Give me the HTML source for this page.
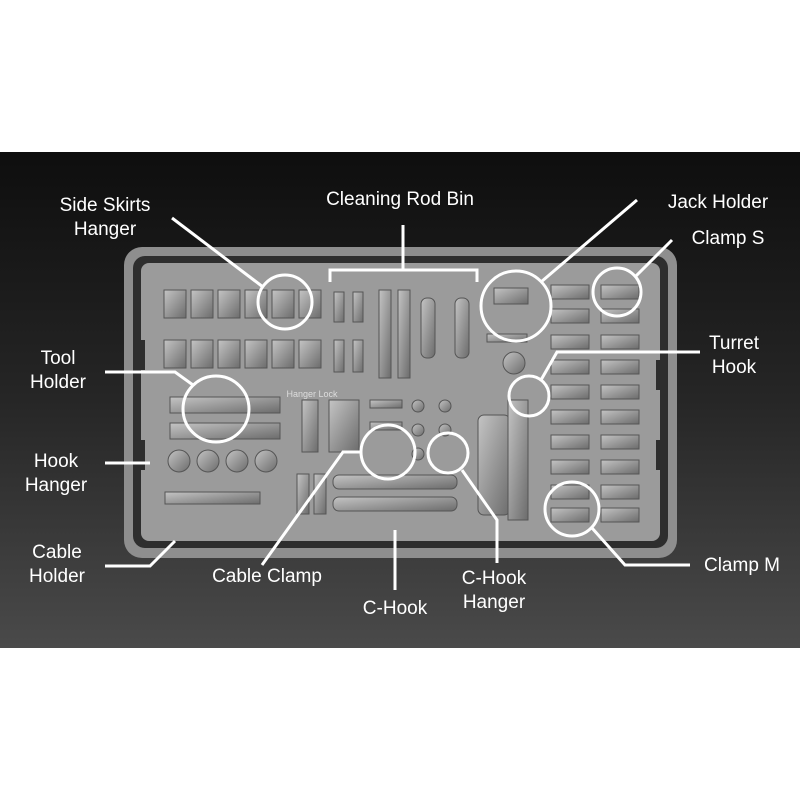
<!DOCTYPE html>
<html><head><meta charset="utf-8"><style>
html,body{margin:0;padding:0;background:#fff;width:800px;height:800px;overflow:hidden}
svg{display:block}
text{font-family:"Liberation Sans",sans-serif;font-size:19px;fill:#fff;text-anchor:middle}
</style></head><body>
<svg width="800" height="800" viewBox="0 0 800 800">
<defs>
<linearGradient id="bg" x1="0" y1="0" x2="0" y2="1">
<stop offset="0" stop-color="#0e0e0e"/><stop offset="0.5" stop-color="#262626"/><stop offset="1" stop-color="#4a4a4a"/>
</linearGradient>
<linearGradient id="part" x1="0" y1="0" x2="1" y2="1">
<stop offset="0" stop-color="#c4c4c4"/><stop offset="1" stop-color="#6c6c6c"/>
</linearGradient>
</defs>
<rect x="0" y="152" width="800" height="496" fill="url(#bg)"/>
<!-- tray -->
<rect x="124" y="247" width="553" height="311" rx="18" fill="#8e8e8e"/>
<rect x="133" y="256" width="535" height="292" rx="12" fill="#2e2e2e"/>
<rect x="141" y="263" width="519" height="278" rx="8" fill="#9b9b9b"/>
<g fill="#2e2e2e">
<rect x="133" y="440" width="12" height="30"/><rect x="656" y="440" width="12" height="30"/>
<rect x="133" y="340" width="12" height="30"/><rect x="656" y="360" width="12" height="30"/>
</g>
<g fill="url(#part)" stroke="#555" stroke-width="1">
<!-- side skirt hangers -->
<rect x="164" y="290" width="22" height="28"/><rect x="191" y="290" width="22" height="28"/><rect x="218" y="290" width="22" height="28"/><rect x="245" y="290" width="22" height="28"/><rect x="272" y="290" width="22" height="28"/><rect x="299" y="290" width="22" height="28"/>
<rect x="164" y="340" width="22" height="28"/><rect x="191" y="340" width="22" height="28"/><rect x="218" y="340" width="22" height="28"/><rect x="245" y="340" width="22" height="28"/><rect x="272" y="340" width="22" height="28"/><rect x="299" y="340" width="22" height="28"/>
<!-- small hooks -->
<rect x="334" y="292" width="10" height="30"/><rect x="353" y="292" width="10" height="30"/><rect x="334" y="340" width="10" height="32"/><rect x="353" y="340" width="10" height="32"/>
<!-- rods -->
<rect x="379" y="290" width="12" height="88"/><rect x="398" y="290" width="12" height="88"/>
<rect x="421" y="298" width="14" height="60" rx="6"/><rect x="455" y="298" width="14" height="60" rx="6"/>
<!-- jack -->
<rect x="494" y="288" width="34" height="16"/><rect x="487" y="334" width="40" height="8"/>
<circle cx="514" cy="363" r="11"/>
<!-- tool holder -->
<rect x="170" y="397" width="110" height="16"/><rect x="170" y="423" width="110" height="16"/>
<circle cx="179" cy="461" r="11"/><circle cx="208" cy="461" r="11"/><circle cx="237" cy="461" r="11"/><circle cx="266" cy="461" r="11"/>
<rect x="165" y="492" width="95" height="12"/>
<!-- center small -->
<rect x="302" y="400" width="16" height="52"/><rect x="329" y="400" width="30" height="52"/>
<rect x="370" y="400" width="32" height="8"/><rect x="370" y="422" width="32" height="8"/>
<circle cx="418" cy="406" r="6"/><circle cx="445" cy="406" r="6"/><circle cx="418" cy="430" r="6"/><circle cx="445" cy="430" r="6"/><circle cx="418" cy="454" r="6"/>
<rect x="297" y="474" width="12" height="40"/><rect x="314" y="474" width="12" height="40"/>
<rect x="333" y="475" width="124" height="14" rx="6"/><rect x="333" y="497" width="124" height="14" rx="6"/>
<!-- cylinder & spring -->
<rect x="478" y="415" width="32" height="100" rx="6"/><rect x="508" y="400" width="20" height="120"/>
<!-- clamps -->
<rect x="551" y="285" width="38" height="14"/><rect x="601" y="285" width="38" height="14"/>
<rect x="551" y="309" width="38" height="14"/><rect x="601" y="309" width="38" height="14"/>
<rect x="551" y="335" width="38" height="14"/><rect x="601" y="335" width="38" height="14"/>
<rect x="551" y="360" width="38" height="14"/><rect x="601" y="360" width="38" height="14"/>
<rect x="551" y="385" width="38" height="14"/><rect x="601" y="385" width="38" height="14"/>
<rect x="551" y="410" width="38" height="14"/><rect x="601" y="410" width="38" height="14"/>
<rect x="551" y="435" width="38" height="14"/><rect x="601" y="435" width="38" height="14"/>
<rect x="551" y="460" width="38" height="14"/><rect x="601" y="460" width="38" height="14"/>
<rect x="551" y="485" width="38" height="14"/><rect x="601" y="485" width="38" height="14"/>
<rect x="551" y="508" width="38" height="14"/><rect x="601" y="508" width="38" height="14"/>
</g>
<text x="312" y="397" style="font-size:9px;fill:#ddd">Hanger Lock</text>
<!-- callouts -->
<g fill="none" stroke="#fff" stroke-width="3">
<circle cx="285" cy="302" r="27"/><circle cx="516" cy="306" r="35"/><circle cx="617" cy="292" r="24"/>
<circle cx="216" cy="409" r="33"/><circle cx="529" cy="396" r="20"/><circle cx="388" cy="452" r="27"/>
<circle cx="448" cy="453" r="20"/><circle cx="572" cy="509" r="27"/>
<polyline points="172,218 263,287"/>
<polyline points="330,282 330,270 477,270 477,282"/><line x1="403" y1="225" x2="403" y2="270"/>
<line x1="637" y1="200" x2="541" y2="282"/>
<line x1="672" y1="240" x2="636" y2="276"/>
<polyline points="700,352 557,352 541,380"/>
<polyline points="105,372 175,372 193,385"/>
<line x1="105" y1="463" x2="150" y2="463"/>
<polyline points="105,566 150,566 175,541"/>
<polyline points="262,565 343,452 361,452"/>
<line x1="395" y1="530" x2="395" y2="590"/>
<polyline points="462,470 497,520 497,563"/>
<polyline points="592,528 625,565 690,565"/>
</g>
<text x="105" y="211">Side Skirts</text><text x="105" y="235">Hanger</text>
<text x="400" y="205">Cleaning Rod Bin</text>
<text x="718" y="208">Jack Holder</text>
<text x="728" y="244">Clamp S</text>
<text x="734" y="349">Turret</text><text x="734" y="373">Hook</text>
<text x="58" y="364">Tool</text><text x="58" y="388">Holder</text>
<text x="56" y="467">Hook</text><text x="56" y="491">Hanger</text>
<text x="57" y="558">Cable</text><text x="57" y="582">Holder</text>
<text x="267" y="582">Cable Clamp</text>
<text x="395" y="614">C-Hook</text>
<text x="494" y="584">C-Hook</text><text x="494" y="608">Hanger</text>
<text x="742" y="571">Clamp M</text>
</svg>
</body></html>
